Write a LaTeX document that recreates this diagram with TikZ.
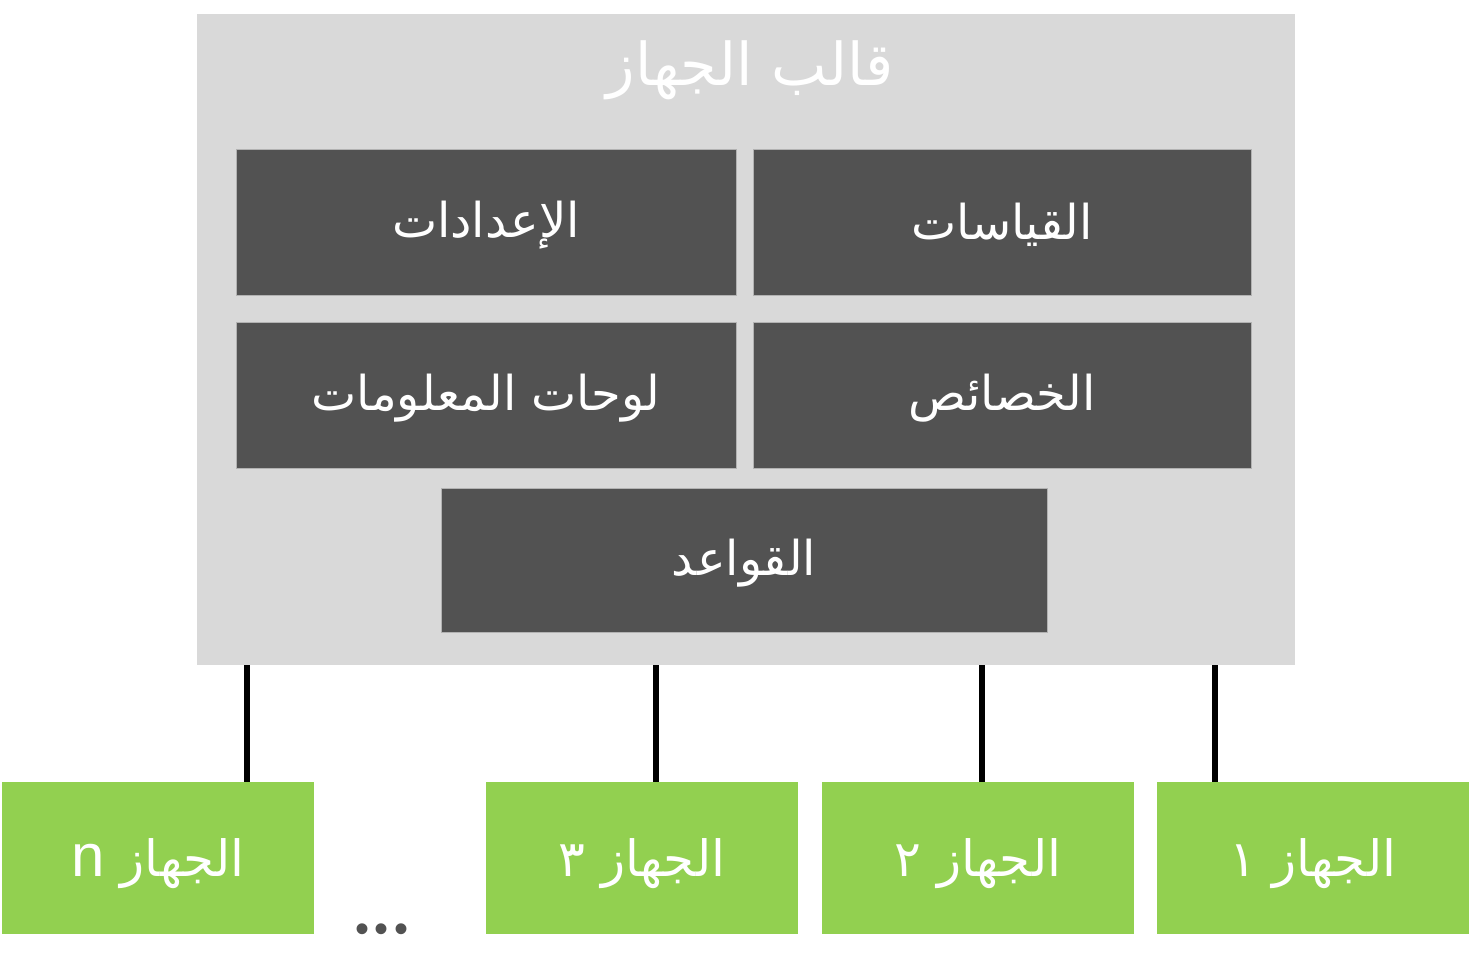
\documentclass[tikz,border=0pt]{standalone}
\usepackage{fontspec}
\setmainfont{Liberation Sans}
\newfontfamily\arabicfont[Script=Arabic]{DejaVu Sans}
\TeXXeTstate=1
\definecolor{tmplgray}{HTML}{D9D9D9}
\definecolor{darkbox}{HTML}{525252}
\definecolor{devgreen}{HTML}{92D050}
\begin{document}
\begin{tikzpicture}[x=1pt,y=-1pt,
  boxbase/.style={anchor=north west, inner sep=0pt, outer sep=0pt},
  frame/.style={boxbase, fill=tmplgray},
  part/.style={boxbase, fill=darkbox, draw=black!30, line width=0.8pt, minimum height=146pt},
  device/.style={boxbase, fill=devgreen, minimum width=312pt, minimum height=152pt},
  lbl/.style={text=white, font=\fontsize{48}{56}\selectfont\arabicfont, inner sep=0pt},
  titlelbl/.style={text=white, font=\fontsize{59}{64}\selectfont\arabicfont, inner sep=0pt},
  devlbl/.style={text=white, font=\fontsize{50}{58}\selectfont\arabicfont, inner sep=0pt},
  conn/.style={draw=black, line width=6.5pt}
]
\useasboundingbox (0,0) rectangle (1470,980);
\fill[white] (0,0) rectangle (1470,980);

\node[frame, minimum width=1098pt, minimum height=651pt] (tmpl) at (197,14) {};
\node[titlelbl] (title) at (750,70) {\beginR قالب الجهاز\endR};

\node[part, minimum width=500pt] (settings) at (236,149) {};
\node[lbl] at ([yshift=-3pt]settings.center) {\beginR الإعدادات\endR};
\node[part, minimum width=498pt] (measures) at (753,149) {};
\node[lbl] at ([yshift=-3pt]measures.center) {\beginR القياسات\endR};
\node[part, minimum width=500pt] (dash) at (236,322) {};
\node[lbl] at ([yshift=-3pt]dash.center) {\beginR لوحات المعلومات\endR};
\node[part, minimum width=498pt] (props) at (753,322) {};
\node[lbl] at ([yshift=-3pt]props.center) {\beginR الخصائص\endR};
\node[part, minimum width=606pt, minimum height=144pt] (rules) at (441,488) {};
\node[lbl] at ([yshift=-3pt]rules.center) {\beginR القواعد\endR};

\node[device] (dn) at (2,782) {};
\node[devlbl] at ([yshift=-6pt]dn.center) {\beginR الجهاز \beginL{\fontsize{60}{66}\selectfont\rmfamily n}\endL\endR};
\node[device] (d3) at (486,782) {};
\node[devlbl] at ([yshift=-6pt]d3.center) {\beginR الجهاز ٣\endR};
\node[device] (d2) at (822,782) {};
\node[devlbl] at ([yshift=-6pt]d2.center) {\beginR الجهاز ٢\endR};
\node[device] (d1) at (1157,782) {};
\node[devlbl] at ([yshift=-6pt]d1.center) {\beginR الجهاز ١\endR};

\node[text=darkbox, font=\fontsize{40}{44}\selectfont, inner sep=0pt, anchor=center] (dots) at (382,933) {•\hspace{5.5pt}•\hspace{5.5pt}•};

\coordinate (xn) at (247,0);
\coordinate (x3) at (656,0);
\coordinate (x2) at (982,0);
\coordinate (x1) at (1215,0);
\draw[conn] (xn |- tmpl.south) -- (xn |- dn.north);
\draw[conn] (x3 |- tmpl.south) -- (x3 |- d3.north);
\draw[conn] (x2 |- tmpl.south) -- (x2 |- d2.north);
\draw[conn] (x1 |- tmpl.south) -- (x1 |- d1.north);
\end{tikzpicture}
\end{document}
